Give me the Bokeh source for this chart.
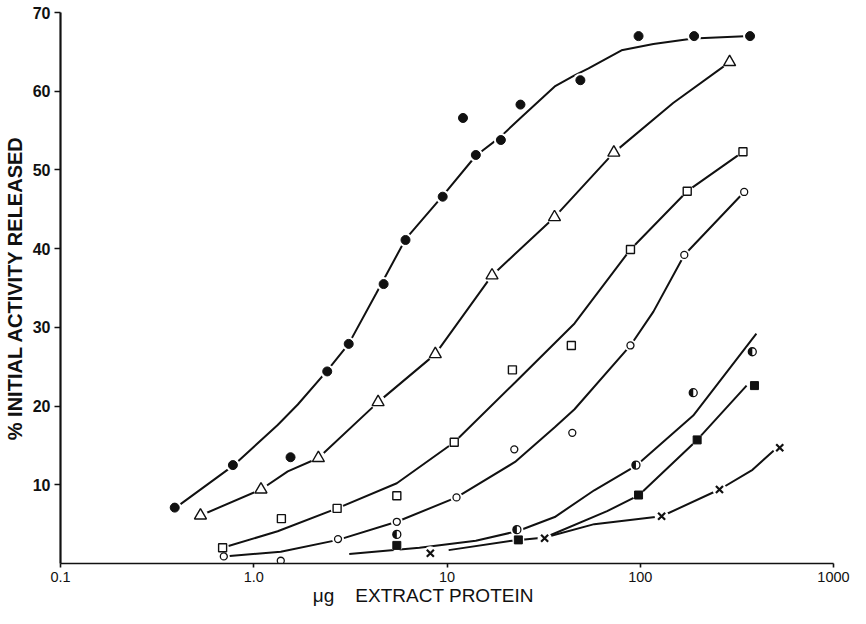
import math
from bokeh.plotting import figure
from bokeh.models import Range1d, FixedTicker
from bokeh.embed import file_html
from bokeh.resources import INLINE

# ---- data ----
x_ticks = [0.1, 1, 10, 100, 1000]
x_tick_labels = ["0.1", "1.0", "10", "100", "1000"]
y_ticks = [10, 20, 30, 40, 50, 60, 70]

# filled circles
fc_x = [0.39, 0.78, 1.55, 2.4, 3.1, 4.7, 6.1, 9.5, 12.1, 14.1, 19, 24, 49, 98, 190, 370]
fc_y = [7.1, 12.5, 13.5, 24.4, 27.9, 35.5, 41.1, 46.6, 56.6, 51.9, 53.8, 58.3, 61.4, 67.0, 67.0, 67.0]
fc_curve_x = [0.39, 0.78, 1.33, 1.69, 2.4, 3.1, 4.3, 6.1, 9.5, 14.1, 18.9, 24, 36.1, 45.7, 54, 80, 117, 188, 370]
fc_curve_y = [7.0, 12.4, 17.6, 20.2, 24.5, 27.9, 34.3, 41.2, 46.7, 51.8, 54.2, 56.6, 60.6, 62.0, 62.9, 65.2, 66.0, 66.7, 67.0]

# open triangles
tr_x = [0.53, 1.09, 2.16, 4.4, 8.7, 17.1, 36, 73, 290]
tr_y = [6.1, 9.4, 13.4, 20.5, 26.6, 36.6, 44.0, 52.2, 63.7]
tr_curve_x = [0.53, 1.09, 1.5, 2.16, 4.4, 8.7, 17.1, 36, 73, 148, 290]
tr_curve_y = [6.1, 9.4, 11.7, 13.4, 20.5, 26.6, 36.6, 44.0, 52.2, 58.5, 63.7]

# open squares
sq_x = [0.69, 1.39, 2.7, 5.5, 10.9, 21.8, 44, 89, 175, 340]
sq_y = [2.0, 5.7, 7.0, 8.6, 15.4, 24.6, 27.7, 39.9, 47.3, 52.3]
sq_curve_x = [0.69, 1.33, 2.7, 5.5, 10.9, 22.5, 45.7, 89, 175, 340]
sq_curve_y = [2.0, 4.1, 7.0, 10.2, 15.4, 23.0, 30.5, 39.9, 47.3, 52.3]

# open circles
oc_x = [0.70, 1.38, 2.73, 5.5, 11.2, 22.3, 44.5, 89, 169, 345]
oc_y = [0.9, 0.35, 3.1, 5.3, 8.4, 14.5, 16.6, 27.7, 39.2, 47.2]
oc_curve_x = [0.70, 1.38, 2.73, 5.5, 11.2, 22.5, 36.1, 45.7, 89, 117, 169, 345]
oc_curve_y = [0.9, 1.5, 3.0, 5.3, 8.4, 12.9, 17.3, 19.6, 27.7, 32.0, 39.2, 47.2]

# half-filled circles
hc_x = [5.5, 23, 95, 188, 380]
hc_y = [3.7, 4.3, 12.5, 21.7, 26.9]
hc_curve_x = [3.12, 7.2, 14.1, 23.1, 36.1, 57.8, 94.8, 188, 399]
hc_curve_y = [1.2, 2.0, 2.9, 4.1, 5.9, 9.3, 12.4, 18.8, 29.2]

# filled squares
fs_x = [5.5, 23.4, 98, 197, 390]
fs_y = [2.3, 3.0, 8.7, 15.7, 22.6]
fs_curve_x = [10.2, 21.7, 32.1, 67.4, 98.6, 197, 355]
fs_curve_y = [1.7, 2.9, 3.3, 6.65, 8.7, 15.7, 22.6]

# crosses
cx_x = [8.2, 32, 129, 257, 527]
cx_y = [1.3, 3.2, 6.0, 9.4, 14.7]
cx_curve_x = [32.1, 57.8, 129, 257, 381, 493]
cx_curve_y = [3.3, 5.0, 6.0, 9.4, 11.9, 14.4]

INK = "#111111"
FONT = "Liberation Sans"
NB = "\u00a0"

p = figure(width=850, height=608, x_axis_type="log",
           x_range=Range1d(0.1, 1000), y_range=Range1d(0, 70),
           output_backend="svg", toolbar_location=None,
           min_border_left=60, min_border_right=17,
           min_border_top=12, min_border_bottom=0)
p.outline_line_color = None
p.grid.visible = False
p.background_fill_color = "white"

# axes
p.xaxis.ticker = FixedTicker(ticks=x_ticks)
p.xaxis.major_label_overrides = {t: s for t, s in zip(x_ticks, x_tick_labels)}
p.yaxis.ticker = FixedTicker(ticks=y_ticks)
for ax in (p.xaxis, p.yaxis):
    ax.minor_tick_line_color = None
    ax.axis_line_color = INK
    ax.major_tick_line_color = INK
    ax.major_label_text_color = INK
    ax.major_label_text_font = FONT
    ax.major_tick_in = 0
    ax.axis_label_text_font = FONT
    ax.axis_label_text_color = INK
p.xaxis.axis_line_width = 1.6
p.yaxis.axis_line_width = 2.2
p.xaxis.major_tick_line_width = 1.6
p.yaxis.major_tick_line_width = 1.6
p.xaxis.major_tick_out = 4
p.yaxis.major_tick_out = 6
p.xaxis.major_label_text_font_size = "14.5px"
p.yaxis.major_label_text_font_size = "16px"
p.yaxis.major_label_text_font_style = "bold"
p.xaxis.major_label_standoff = 4
p.yaxis.major_label_standoff = 4
p.yaxis.axis_label = "% INITIAL ACTIVITY RELEASED"
p.yaxis.axis_label_text_font_size = "20px"
p.yaxis.axis_label_text_font_style = "bold"
p.yaxis.axis_label_standoff = 4
# trailing no-break spaces move the visible title left of centre, as in the original
p.xaxis.axis_label = "\u03bcg" + NB * 4 + "EXTRACT PROTEIN" + NB * 9
p.xaxis.axis_label_text_font_size = "19px"
p.xaxis.axis_label_text_font_style = "normal"
p.xaxis.axis_label_standoff = 0

# curves
curves = [(fc_curve_x, fc_curve_y), (tr_curve_x, tr_curve_y), (sq_curve_x, sq_curve_y),
          (oc_curve_x, oc_curve_y), (hc_curve_x, hc_curve_y), (fs_curve_x, fs_curve_y),
          (cx_curve_x, cx_curve_y)]
for cx, cy in curves:
    p.line(cx, cy, line_color=INK, line_width=2)

# white halos (gaps in the curves around the symbols)
for xs, ys, s in [(fc_x, fc_y, 14), (tr_x, tr_y, 15), (sq_x, sq_y, 13), (oc_x, oc_y, 12),
                  (hc_x, hc_y, 13), (fs_x, fs_y, 12), (cx_x, cx_y, 14)]:
    p.scatter(xs, ys, size=s, marker="circle", fill_color="white", line_color=None)

# symbols
p.scatter(fc_x, fc_y, size=9, marker="circle", fill_color=INK, line_color=INK)
p.scatter(tr_x, tr_y, size=12, marker="triangle", fill_color="white", line_color=INK, line_width=1.4)
p.scatter(sq_x, sq_y, size=8, marker="square", fill_color="white", line_color=INK, line_width=1.4)
p.scatter(oc_x, oc_y, size=7, marker="circle", fill_color="white", line_color=INK, line_width=1.3)
p.scatter(hc_x, hc_y, size=8, marker="circle", fill_color="white", line_color=INK, line_width=1.3)
p.wedge(hc_x, hc_y, radius=4, radius_units="screen", start_angle=math.pi / 2,
        end_angle=3 * math.pi / 2, fill_color=INK, line_color=None)
p.scatter(fs_x, fs_y, size=8, marker="square", fill_color=INK, line_color=INK)
p.scatter(cx_x, cx_y, size=10, marker="x", line_color=INK, line_width=2.2)

open("out.html", "w").write(file_html(p, INLINE))
